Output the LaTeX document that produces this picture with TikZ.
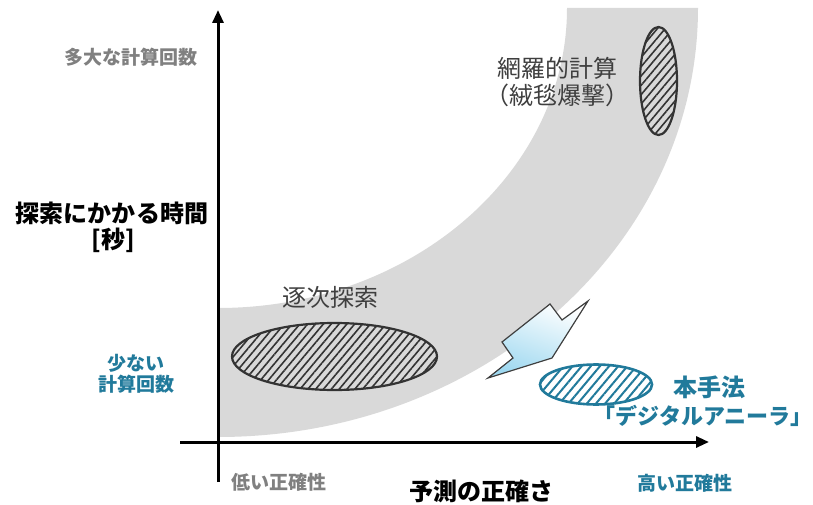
\documentclass[tikz,border=0pt]{standalone}
\usepackage{fontspec}
\setmainfont{Noto Sans CJK JP}
\usetikzlibrary{arrows.meta,patterns.meta}
\definecolor{band}{HTML}{D9D9D9}
\definecolor{tealc}{HTML}{217A9B}
\definecolor{graytxt}{HTML}{808080}
\definecolor{darktxt}{HTML}{3F3F3F}
\definecolor{hatch}{HTML}{333333}
\definecolor{boltblue}{HTML}{9ED8F0}
\begin{document}
\begin{tikzpicture}[x=1pt,y=1pt,
  axis/.style={line width=3pt,-{Triangle[length=13pt,width=11pt]}},
  small/.style={font=\fontsize{19}{23}\selectfont\bfseries},
  big/.style={font=\fontsize{24}{28}\selectfont\bfseries},
  lbl/.style={font=\fontsize{24}{29}\selectfont, text=darktxt, align=center},
  hatchgray/.style={draw=hatch, line width=2.2pt, preaction={fill=band},
    pattern={Lines[angle=50,distance=6pt,line width=1.6pt]}, pattern color=hatch},
  hatchteal/.style={draw=tealc, line width=2.6pt, preaction={fill=white},
    pattern={Lines[angle=50,distance=7pt,line width=2pt]}, pattern color=tealc}]
\useasboundingbox (0,0) rectangle (813,504);
% band
\fill[band] (218,196) arc[start angle=270,end angle=360,x radius=349pt,y radius=300pt]
  -- (698,496) arc[start angle=0,end angle=-90,x radius=480pt,y radius=429pt] -- cycle;
% ellipses
\path[hatchgray] (334.5,147.5) ellipse[x radius=102.5pt,y radius=33.5pt];
\path[hatchgray] (658.5,423) ellipse[x radius=18.5pt,y radius=54pt];
\path[hatchteal] (596,119.5) ellipse[x radius=56pt,y radius=20pt];
% bolt arrow
\draw[draw=darktxt, line width=1.2pt, line join=miter, top color=white, bottom color=boltblue, shading angle=-20]
  (488,126) -- (513,146) -- (502,162) -- (550,200) -- (562,184) -- (588,203) -- (552,146) -- cycle;
% axes
\coordinate (xs) at (180,62);
\coordinate (xe) at (709,62);
\coordinate (ys) at (218,22);
\coordinate (ye) at (218,494);
\draw[axis] (xs) -- (xe);
\draw[axis] (ys) -- (ye);
% texts
\node[small, text=graytxt] (ymax) at (131,447) {多大な計算回数};
\node[big] (ylab1) at (112,291) {探索にかかる時間};
\node[big] (ylab2) at (113,264) {[秒]};
\node[small, text=tealc, align=center] (ymin) at (136,130) {少ない\\[-2pt]計算回数};
\node[small, text=graytxt] (xmin) at (279,22) {低い正確性};
\node[big] (xlab) at (481,13) {予測の正確さ};
\node[small, text=tealc] (xmax) at (685,21) {高い正確性};
\node[lbl] (seq) at (330,207) {逐次探索};
\node[lbl] (exh) at (557,422) {網羅的計算\\[-2pt]（絨毯爆撃）};
\node[big, text=tealc] (prop1) at (709,117) {本手法};
\node[big, text=tealc, inner sep=0pt, font=\fontsize{22}{26}\selectfont\bfseries] (prop2) at (703,88) {「デジタルアニーラ」};
\end{tikzpicture}
\end{document}
